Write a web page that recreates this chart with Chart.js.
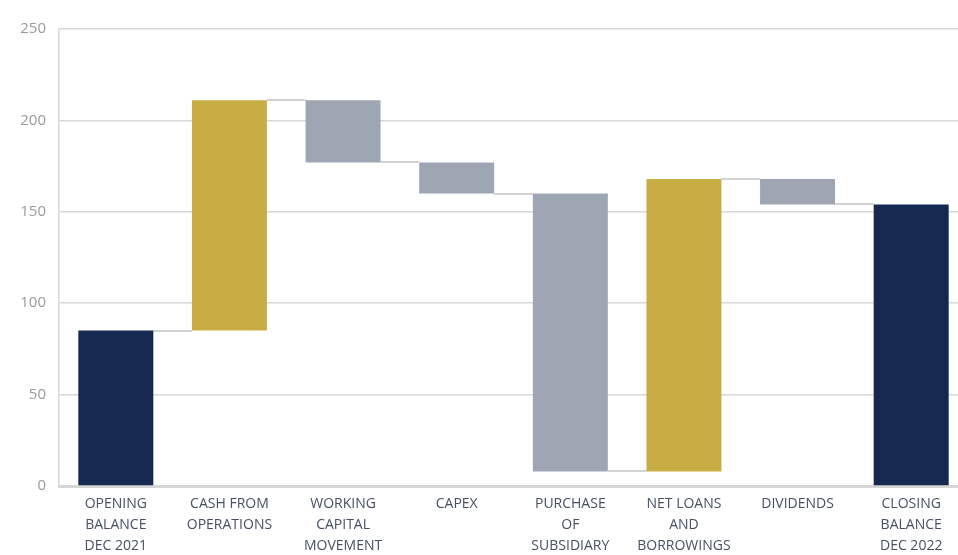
<!DOCTYPE html>
<html>
<head>
<meta charset="utf-8">
<script src="https://cdn.jsdelivr.net/npm/chart.js@4.4.1/dist/chart.umd.min.js"></script>
<style>
  html, body { margin: 0; padding: 0; background: #fff; overflow: hidden; }
  #wrap { position: relative; width: 970px; height: 555px; }
</style>
</head>
<body>
<div id="wrap"><canvas id="c"></canvas></div>
<script>
// Cash bridge, Dec 2021 -> Dec 2022
const categories = [
  ['OPENING', 'BALANCE', 'DEC 2021'],
  ['CASH FROM', 'OPERATIONS'],
  ['WORKING', 'CAPITAL', 'MOVEMENT'],
  ['CAPEX'],
  ['PURCHASE', 'OF', 'SUBSIDIARY'],
  ['NET LOANS', 'AND', 'BORROWINGS'],
  ['DIVIDENDS'],
  ['CLOSING', 'BALANCE', 'DEC 2022']
];
// 'total' bars start at zero, 'step' bars move from the running balance
const kinds = ['total', 'step', 'step', 'step', 'step', 'step', 'step', 'total'];
const values = [85, 126, -34, -17, -152, 160, -14, 154];
const yTicks = [0, 50, 100, 150, 200, 250];

const NAVY = '#142850', GOLD = '#c8ad45', GREY = '#9ea5b3';

// Build floating [from, to] ranges from the running balance
const ranges = [];
let running = 0;
values.forEach((v, i) => {
  if (kinds[i] === 'total') { ranges.push([0, v]); running = v; }
  else { ranges.push([running, running + v]); running += v; }
});
const colors = values.map((v, i) => kinds[i] === 'total' ? NAVY : (v >= 0 ? GOLD : GREY));

// Thin connectors joining each bar's end level to the next bar
const connectors = {
  id: 'connectors',
  beforeDatasetsDraw(chart) {
    const { ctx, scales: { y } } = chart;
    const bars = chart.getDatasetMeta(0).data;
    ctx.save();
    ctx.strokeStyle = '#d2d2d2';
    ctx.lineWidth = 2;
    for (let i = 0; i < bars.length - 1; i++) {
      const level = ranges[i][1];
      const py = Math.round(y.getPixelForValue(level));
      const x1 = bars[i].x + bars[i].width / 2;
      const x2 = bars[i + 1].x - bars[i + 1].width / 2;
      ctx.beginPath();
      ctx.moveTo(x1, py);
      ctx.lineTo(x2, py);
      ctx.stroke();
    }
    ctx.restore();
  }
};

new Chart(document.getElementById('c'), {
  type: 'bar',
  data: {
    labels: categories,
    datasets: [{
      data: ranges,
      backgroundColor: colors,
      borderWidth: 0,
      borderSkipped: false,
      barPercentage: 0.66,
      categoryPercentage: 1.0
    }]
  },
  options: {
    responsive: true,
    maintainAspectRatio: false,
    animation: false,
    layout: { padding: { top: 29, right: 2, left: 0, bottom: 0 } },
    plugins: { legend: { display: false }, tooltip: { enabled: false } },
    scales: {
      x: {
        grid: { display: false, drawTicks: false },
        border: { display: true, color: '#d6d6d6', width: 3 },
        ticks: {
          color: '#465064',
          font: { family: 'Open Sans', size: 14, lineHeight: 1.5 },
          padding: 8,
          maxRotation: 0,
          autoSkip: false
        },
        afterFit(scale) { scale.height = 69; }
      },
      y: {
        min: 0,
        max: 250,
        afterBuildTicks(scale) { scale.ticks = yTicks.map(v => ({ value: v })); },
        grid: { color: '#d8d8d8', lineWidth: 1.5, drawTicks: false },
        border: { display: true, color: '#d6d6d6', width: 1.5 },
        ticks: {
          color: '#999999',
          font: { family: 'Open Sans', size: 15 },
          padding: 13
        },
        afterFit(scale) { scale.width = 59; }
      }
    }
  },
  plugins: [connectors]
});
</script>
</body>
</html>
